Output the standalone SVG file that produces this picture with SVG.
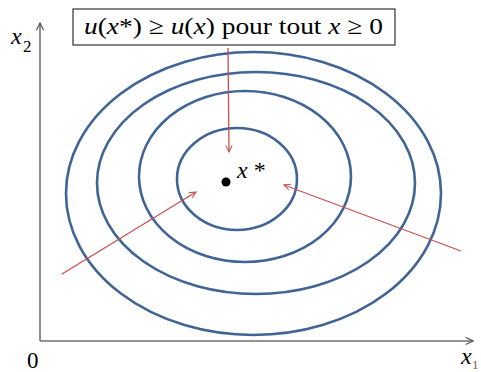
<svg xmlns="http://www.w3.org/2000/svg" width="481" height="372" viewBox="0 0 481 372">
<defs>
<marker id="ah" viewBox="0 0 10 10" refX="9" refY="5" markerWidth="8" markerHeight="8" markerUnits="userSpaceOnUse" orient="auto">
<path d="M1,1 L9,5 L1,9" fill="none" stroke="#c0504d" stroke-width="1.3"/>
</marker>
<marker id="axh" viewBox="0 0 10 10" refX="9" refY="5" markerWidth="9" markerHeight="9" markerUnits="userSpaceOnUse" orient="auto">
<path d="M1,1 L9,5 L1,9" fill="none" stroke="#555" stroke-width="1.3"/>
</marker>
</defs>
<style>
text{font-family:'Liberation Serif','Times New Roman','DejaVu Serif',serif;fill:#000}
.i{font-style:italic}
.ell{fill:none;stroke:#3f6495;stroke-width:2.6}
.red{fill:none;stroke:#c9504f;stroke-width:1.3}
.ax{fill:none;stroke:#707070;stroke-width:1.6}
</style>
<rect width="481" height="372" fill="#fff"/>
<g id="axes">
<line class="ax" x1="40" y1="341" x2="40" y2="23" marker-end="url(#axh)"/>
<line class="ax" x1="40" y1="341" x2="473" y2="341" marker-end="url(#axh)"/>
<text class="i" x="11" y="44" font-size="24">x</text>
<text x="23" y="52" font-size="17">2</text>
<text x="27" y="368" font-size="23">0</text>
<text class="i" x="461" y="364" font-size="24">x</text>
<text x="472" y="369" font-size="13" style="fill:#8a5a2a">1</text>
</g>
<g id="ellipses">
<ellipse class="ell" cx="253.5" cy="193.5" rx="187.5" ry="141.5"/>
<ellipse class="ell" cx="256" cy="183" rx="159" ry="111"/>
<ellipse class="ell" cx="245" cy="176.5" rx="106" ry="85.5"/>
<ellipse class="ell" cx="237" cy="179" rx="60" ry="51"/>
</g>
<g id="optimum">
<circle cx="226" cy="182" r="4.5" fill="#000"/>
<text x="237" y="178" font-size="24"><tspan class="i">x</tspan> *</text>
</g>
<g id="label">
<rect x="73" y="9" width="322" height="36" fill="#fff" stroke="#333" stroke-width="1.2"/>
<text x="84" y="34" font-size="24" textLength="299" lengthAdjust="spacingAndGlyphs"><tspan class="i">u</tspan>(<tspan class="i">x</tspan>*) ≥ <tspan class="i">u</tspan>(<tspan class="i">x</tspan>) pour tout <tspan class="i">x</tspan> ≥ 0</text>
</g>
<g id="connectors">
<line class="red" x1="228" y1="48" x2="229" y2="152" marker-end="url(#ah)"/>
<line class="red" x1="62" y1="274" x2="196" y2="192" marker-end="url(#ah)"/>
<line class="red" x1="461" y1="251" x2="284" y2="185" marker-end="url(#ah)"/>
</g>
</svg>
